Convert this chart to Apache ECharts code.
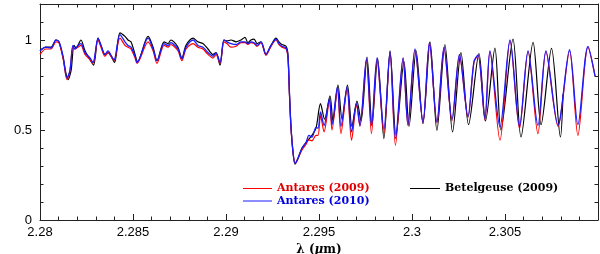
<!DOCTYPE html>
<html>
<head>
<meta charset="utf-8">
<script src="https://cdn.jsdelivr.net/npm/echarts@6/dist/echarts.min.js"></script>
<style>html,body{margin:0;padding:0;background:#fff}#c{width:600px;height:254px}</style>
</head>
<body>
<div id="c"></div>
<script>
// wavelength grid (micron) shared by both Antares spectra
var wlAntares = [2.28000,2.28032,2.28059,2.28086,2.28102,2.28124,2.28145,2.28161,2.28177,2.28188,2.28204,2.28220,2.28242,2.28269,2.28285,2.28312,2.28328,2.28349,2.28366,2.28382,2.28398,2.28430,2.28457,2.28473,2.28489,2.28511,2.28522,2.28581,2.28608,2.28629,2.28667,2.28688,2.28704,2.28720,2.28742,2.28763,2.28785,2.28823,2.28849,2.28876,2.28903,2.28930,2.28946,2.28968,2.28989,2.29005,2.29027,2.29054,2.29081,2.29102,2.29118,2.29134,2.29151,2.29167,2.29188,2.29215,2.29242,2.29269,2.29285,2.29301,2.29323,2.29333,2.29341,2.29349,2.29360,2.29371,2.29382,2.29409,2.29430,2.29446,2.29462,2.29484,2.29495,2.29508,2.29527,2.29556,2.29570,2.29599,2.29618,2.29651,2.29675,2.29702,2.29720,2.29755,2.29782,2.29812,2.29849,2.29882,2.29911,2.29952,2.29978,2.30016,2.30059,2.30094,2.30134,2.30172,2.30215,2.30255,2.30301,2.30333,2.30355,2.30392,2.30419,2.30473,2.30527,2.30578,2.30624,2.30677,2.30720,2.30785,2.30847,2.30892,2.30946,2.30984];
var fluxAntares2009 = [0.92,0.95,0.95,0.99,0.985,0.90,0.78,0.83,0.96,0.95,0.96,0.97,0.92,0.89,0.87,1.00,0.96,0.91,0.93,0.91,0.885,1.01,0.97,0.96,0.95,0.90,0.87,0.99,0.94,0.87,0.97,0.96,0.975,0.965,0.94,0.885,0.95,0.98,0.96,0.95,0.92,0.90,0.92,0.87,0.99,0.98,0.96,0.965,0.985,0.985,0.975,0.985,0.98,0.965,0.985,0.915,0.965,1.00,0.975,0.96,0.95,0.90,0.70,0.52,0.38,0.315,0.33,0.39,0.42,0.445,0.44,0.47,0.47,0.58,0.49,0.66,0.50,0.73,0.48,0.73,0.443,0.64,0.52,0.89,0.48,0.89,0.48,0.93,0.415,0.90,0.526,0.945,0.54,0.985,0.54,0.955,0.55,0.915,0.57,0.875,0.915,0.555,0.935,0.443,0.995,0.507,0.935,0.48,0.935,0.52,0.94,0.47,0.96,0.80];
var fluxAntares2010 = [0.94,0.96,0.955,1.00,0.99,0.91,0.79,0.83,0.97,0.95,0.97,0.98,0.93,0.90,0.875,1.01,0.97,0.92,0.94,0.915,0.89,1.03,0.99,0.97,0.96,0.91,0.875,1.01,0.95,0.885,0.98,0.97,0.985,0.975,0.95,0.895,0.96,1.00,0.97,0.96,0.93,0.91,0.93,0.875,1.00,0.99,0.98,0.975,0.99,0.99,0.98,0.99,0.985,0.97,0.99,0.92,0.97,1.005,0.98,0.965,0.955,0.91,0.71,0.525,0.38,0.315,0.33,0.40,0.43,0.47,0.46,0.515,0.51,0.60,0.525,0.673,0.53,0.74,0.52,0.74,0.49,0.646,0.526,0.895,0.525,0.90,0.507,0.935,0.452,0.90,0.53,0.95,0.544,0.987,0.544,0.96,0.56,0.92,0.575,0.88,0.917,0.563,0.94,0.516,1.00,0.52,0.94,0.526,0.94,0.526,0.946,0.53,0.965,0.80];
// Betelgeuse spectrum
var wlBetelgeuse = [2.28000,2.28032,2.28059,2.28086,2.28102,2.28124,2.28151,2.28167,2.28183,2.28194,2.28204,2.28220,2.28242,2.28269,2.28288,2.28312,2.28328,2.28349,2.28366,2.28382,2.28401,2.28430,2.28457,2.28473,2.28489,2.28511,2.28524,2.28581,2.28608,2.28629,2.28667,2.28688,2.28704,2.28720,2.28742,2.28763,2.28785,2.28823,2.28849,2.28876,2.28903,2.28930,2.28946,2.28968,2.28989,2.29005,2.29027,2.29054,2.29081,2.29102,2.29118,2.29134,2.29151,2.29167,2.29188,2.29215,2.29242,2.29269,2.29285,2.29301,2.29323,2.29333,2.29341,2.29349,2.29360,2.29371,2.29382,2.29409,2.29430,2.29446,2.29462,2.29484,2.29508,2.29530,2.29559,2.29575,2.29602,2.29624,2.29653,2.29677,2.29704,2.29726,2.29758,2.29785,2.29815,2.29849,2.29882,2.29914,2.29957,2.29984,2.30022,2.30059,2.30097,2.30134,2.30177,2.30218,2.30263,2.30304,2.30360,2.30395,2.30446,2.30478,2.30543,2.30586,2.30651,2.30694,2.30750,2.30798,2.30812];
var fluxBetelgeuse = [0.94,0.96,0.96,1.00,0.99,0.90,0.78,0.83,0.97,0.955,0.97,1.00,0.94,0.89,0.86,1.01,0.97,0.92,0.93,0.91,0.875,1.04,1.02,1.00,0.99,0.92,0.88,1.02,0.96,0.885,0.99,0.98,1.00,0.99,0.96,0.90,0.97,1.01,0.99,0.98,0.95,0.92,0.93,0.86,1.00,0.995,1.00,0.99,1.00,1.015,0.985,1.00,1.005,0.98,0.99,0.92,0.97,1.01,0.99,0.975,0.965,0.92,0.71,0.525,0.38,0.31,0.33,0.40,0.43,0.45,0.47,0.51,0.646,0.56,0.69,0.55,0.75,0.56,0.75,0.52,0.66,0.55,0.905,0.53,0.90,0.452,0.94,0.47,0.88,0.52,0.94,0.535,0.99,0.498,0.975,0.489,0.93,0.53,0.925,0.55,0.955,0.50,1.005,0.461,0.987,0.53,0.954,0.461,0.70];
var xTicks = [2.28, 2.285, 2.29, 2.295, 2.3, 2.305];
var yTicks = [0, 0.5, 1];
var seriesNames = ['Antares (2009)', 'Antares (2010)', 'Betelgeuse (2009)'];

function pairs(xs, ys) { return xs.map(function (x, i) { return [x, ys[i]]; }); }

var chart = echarts.init(document.getElementById('c'), null, {renderer: 'canvas'});
var axisCol = '#222';
var tickFont = {fontFamily: 'Liberation Sans, Arial, sans-serif', fontSize: 13, color: '#000'};
var legendFont = {fontFamily: 'DejaVu Serif', fontWeight: 'bold', fontSize: 11};
function fmt(v) { return String(+(+v).toFixed(4)); }

chart.setOption({
  animation: false,
  grid: {left: 40, right: 2, top: 4, bottom: 34, show: false, containLabel: false, outerBoundsMode: 'none'},
  legend: [
    {data: [{name: seriesNames[0], textStyle: {color: '#e00000'}}], left: 243, top: 183, padding: 0, icon: 'rect', itemWidth: 29, itemHeight: 1, selectedMode: false, textStyle: legendFont},
    {data: [{name: seriesNames[1], textStyle: {color: '#0000e0'}}], left: 243, top: 195.5, padding: 0, icon: 'rect', itemWidth: 29, itemHeight: 1, selectedMode: false, textStyle: legendFont},
    {data: [{name: seriesNames[2], textStyle: {color: '#000'}}], left: 410, top: 183, padding: 0, icon: 'rect', itemWidth: 30, itemHeight: 1, selectedMode: false, textStyle: legendFont}
  ],
  xAxis: [
    {type: 'value', position: 'bottom', min: 2.28, max: 2.31, interval: 0.005,
     axisLine: {show: true, onZero: false, lineStyle: {color: axisCol, width: 1}},
     axisTick: {show: true, inside: true, length: 6, lineStyle: {color: axisCol}},
     minorTick: {show: true, splitNumber: 5, length: 3.5, lineStyle: {color: axisCol}},
     splitLine: {show: false},
     axisLabel: {showMaxLabel: false, margin: 6, formatter: function (v) { return xTicks.some(function (t) { return Math.abs(t - v) < 1e-6; }) ? fmt(v) : ''; }, textStyle: tickFont},
     name: '{a|λ (}{i|μ}{a|m)}', nameLocation: 'middle', nameGap: 20,
     nameTextStyle: {rich: {a: {fontFamily: 'DejaVu Serif', fontWeight: 'bold', fontSize: 12, color: '#000'}, i: {fontFamily: 'DejaVu Serif', fontStyle: 'italic', fontWeight: 'bold', fontSize: 12, color: '#000'}}}},
    {type: 'value', position: 'top', min: 2.28, max: 2.31, interval: 0.005,
     axisLine: {show: true, onZero: false, lineStyle: {color: axisCol, width: 1}},
     axisTick: {show: true, inside: true, length: 6, lineStyle: {color: axisCol}},
     minorTick: {show: true, splitNumber: 5, length: 3.5, lineStyle: {color: axisCol}},
     splitLine: {show: false}, axisLabel: {show: false}}
  ],
  yAxis: [
    {type: 'value', position: 'left', min: 0, max: 1.2, interval: 0.5,
     axisLine: {show: true, onZero: false, lineStyle: {color: axisCol, width: 1}},
     axisTick: {show: true, inside: true, length: 5, lineStyle: {color: axisCol}},
     minorTick: {show: true, splitNumber: 5, length: 3.5, lineStyle: {color: axisCol}},
     splitLine: {show: false},
     axisLabel: {showMaxLabel: false, margin: 8, formatter: function (v) { return yTicks.some(function (t) { return Math.abs(t - v) < 1e-6; }) ? fmt(v) : ''; }, textStyle: tickFont},
     name: 'Normalized flux', nameLocation: 'middle', nameGap: 28,
     nameTextStyle: {fontFamily: 'DejaVu Serif', fontWeight: 'bold', fontSize: 11, color: '#000'}},
    {type: 'value', position: 'right', min: 0, max: 1.2, interval: 0.5,
     axisLine: {show: true, onZero: false, lineStyle: {color: axisCol, width: 1}},
     axisTick: {show: true, inside: true, length: 5, lineStyle: {color: axisCol}},
     minorTick: {show: true, splitNumber: 5, length: 3.5, lineStyle: {color: axisCol}},
     splitLine: {show: false}, axisLabel: {show: false}}
  ],
  series: [
    {name: seriesNames[2], type: 'line', data: pairs(wlBetelgeuse, fluxBetelgeuse), showSymbol: false, smooth: 0.3, color: '#000', lineStyle: {width: 1.2, color: '#000'}, z: 2},
    {name: seriesNames[0], type: 'line', data: pairs(wlAntares, fluxAntares2009), showSymbol: false, smooth: 0.3, color: '#ff0000', lineStyle: {width: 1.2, color: '#ff0000'}, z: 3},
    {name: seriesNames[1], type: 'line', data: pairs(wlAntares, fluxAntares2010), showSymbol: false, smooth: 0.3, color: '#1a1aff', lineStyle: {width: 1.3, color: '#1a1aff'}, z: 4}
  ]
});
</script>
</body>
</html>
